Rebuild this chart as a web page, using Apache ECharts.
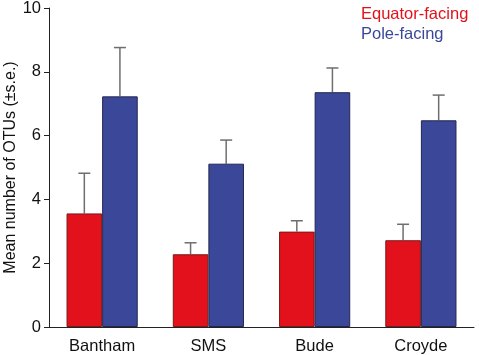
<!DOCTYPE html>
<html>
<head>
<meta charset="utf-8">
<script src="https://cdn.jsdelivr.net/npm/echarts@6/dist/echarts.min.js"></script>
<style>html,body{margin:0;padding:0;background:#fff;}#c{width:479px;height:355px;}</style>
</head>
<body>
<div id="c"></div>
<script>
var categories = ['Bantham', 'SMS', 'Bude', 'Croyde'];
var seriesNames = ['Equator-facing', 'Pole-facing'];
var equatorMean = [3.56, 2.28, 2.99, 2.72];
var equatorSE = [1.26, 0.36, 0.34, 0.50];
var poleMean = [7.23, 5.12, 7.36, 6.48];
var poleSE = [1.53, 0.74, 0.76, 0.79];
var yTicks = [0, 2, 4, 6, 8, 10];

var FONT = '"Liberation Sans", Arial, Helvetica, sans-serif';
var RED = '#e3111b', BLUE = '#3b4899';
var CAT_GAP = 0.33;

function errorSeries(means, ses, side) {
  var data = means.map(function (m, i) { return [i, m, m + ses[i]]; });
  return {
    type: 'custom',
    silent: true,
    z: 1,
    data: data,
    renderItem: function (params, api) {
      var i = api.value(0);
      var base = api.coord([i, api.value(1)]);
      var top = api.coord([i, api.value(2)]);
      var band = api.size([1, 0])[0];
      var bw = band * (1 - CAT_GAP) / 2;
      var x = base[0] + side * bw / 2;
      var cap = 6;
      var st = { stroke: '#6e6e6e', lineWidth: 1.5 };
      return {
        type: 'group',
        children: [
          { type: 'line', shape: { x1: x, y1: base[1], x2: x, y2: top[1] }, style: st },
          { type: 'line', shape: { x1: x - cap, y1: top[1], x2: x + cap, y2: top[1] }, style: st }
        ]
      };
    }
  };
}

var chart = echarts.init(document.getElementById('c'), null, { renderer: 'canvas' });
chart.setOption({
  animation: false,
  backgroundColor: '#fff',
  grid: { left: 49, right: 5, top: 8, bottom: 28, containLabel: false, outerBoundsMode: 'none' },
  legend: {
    orient: 'vertical',
    left: 350,
    top: 0,
    itemWidth: 0,
    itemHeight: 0,
    itemGap: 1,
    icon: 'rect',
    selectedMode: false,
    data: [
      { name: seriesNames[0], textStyle: { color: RED } },
      { name: seriesNames[1], textStyle: { color: BLUE } }
    ],
    textStyle: { fontFamily: FONT, fontSize: 16.5, lineHeight: 19 }
  },
  xAxis: {
    type: 'category',
    data: categories,
    axisLine: { lineStyle: { color: '#222', width: 1 } },
    axisTick: { show: false },
    axisLabel: { color: '#111', fontFamily: FONT, fontSize: 16.5, margin: 11 }
  },
  yAxis: {
    type: 'value',
    min: 0, max: 10, interval: 2,
    name: 'Mean number of OTUs (±s.e.)',
    nameLocation: 'middle',
    nameRotate: 90,
    nameGap: 30,
    nameMoveOverlap: false,
    nameTextStyle: { color: '#111', fontFamily: FONT, fontSize: 16 },
    splitLine: { show: false },
    axisLine: { show: true, lineStyle: { color: '#222', width: 1 } },
    axisTick: { show: true, length: 5, lineStyle: { color: '#222' } },
    axisLabel: {
      color: '#111', fontFamily: FONT, fontSize: 16.5, margin: 8,
      formatter: function (v) { return yTicks.indexOf(v) >= 0 ? String(v) : ''; }
    }
  },
  series: [
    {
      name: seriesNames[0], type: 'bar', data: equatorMean,
      barGap: '0%', barCategoryGap: (CAT_GAP * 100) + '%', z: 2,
      itemStyle: { color: RED, borderColor: '#7a1a1a', borderWidth: 1 }
    },
    {
      name: seriesNames[1], type: 'bar', data: poleMean,
      barGap: '0%', barCategoryGap: (CAT_GAP * 100) + '%', z: 2,
      itemStyle: { color: BLUE, borderColor: '#23264d', borderWidth: 1 }
    },
    errorSeries(equatorMean, equatorSE, -1),
    errorSeries(poleMean, poleSE, 1)
  ]
});
</script>
</body>
</html>
